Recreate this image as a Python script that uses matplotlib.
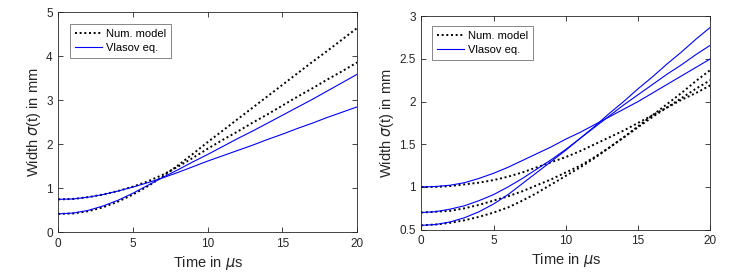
#! python3
# plot.py - beam width vs time, numerical model vs Vlasov equation

import matplotlib
matplotlib.use('Agg')
import matplotlib.pyplot as plt
import matplotlib.ticker as ticker

plt.rcParams['font.family'] = ['Liberation Sans', 'DejaVu Sans']
plt.rcParams['mathtext.fontset'] = 'dejavusans'

# time in microseconds
T = list(range(0, 21))

# left panel, width in mm
LEFT_NUM_NARROW = [0.42, 0.43, 0.48, 0.57, 0.70, 0.86, 1.05, 1.27, 1.52, 1.78, 2.05,
                   2.31, 2.57, 2.83, 3.09, 3.35, 3.61, 3.87, 4.12, 4.38, 4.64]
LEFT_NUM_WIDE = [0.75, 0.76, 0.80, 0.86, 0.94, 1.04, 1.16, 1.31, 1.49, 1.69, 1.90,
                 2.10, 2.29, 2.49, 2.68, 2.88, 3.08, 3.27, 3.47, 3.66, 3.86]
LEFT_VLASOV_NARROW = [0.42, 0.44, 0.50, 0.60, 0.73, 0.89, 1.07, 1.25, 1.42, 1.60, 1.77,
                      1.95, 2.13, 2.30, 2.48, 2.66, 2.84, 3.02, 3.21, 3.40, 3.59]
LEFT_VLASOV_WIDE = [0.75, 0.76, 0.80, 0.86, 0.94, 1.03, 1.13, 1.24, 1.36, 1.49, 1.62,
                    1.74, 1.86, 1.98, 2.11, 2.23, 2.36, 2.48, 2.61, 2.73, 2.85]

# right panel, width in mm
RIGHT_NUM = [
    [1.00, 1.00, 1.01, 1.03, 1.05, 1.08, 1.12, 1.17, 1.23, 1.29, 1.35,
     1.42, 1.50, 1.58, 1.66, 1.75, 1.84, 1.93, 2.02, 2.10, 2.19],
    [0.70, 0.71, 0.72, 0.75, 0.79, 0.84, 0.89, 0.95, 1.02, 1.09, 1.17,
     1.25, 1.35, 1.46, 1.58, 1.70, 1.82, 1.93, 2.04, 2.15, 2.25],
    [0.55, 0.56, 0.58, 0.61, 0.65, 0.70, 0.76, 0.84, 0.93, 1.03, 1.13,
     1.23, 1.34, 1.46, 1.58, 1.71, 1.84, 1.97, 2.10, 2.24, 2.37],
]
RIGHT_VLASOV = [
    [1.00, 1.005, 1.02, 1.05, 1.10, 1.16, 1.23, 1.31, 1.39, 1.47, 1.56,
     1.64, 1.73, 1.82, 1.91, 2.00, 2.10, 2.20, 2.30, 2.40, 2.50],
    [0.70, 0.71, 0.74, 0.78, 0.84, 0.91, 1.00, 1.10, 1.21, 1.32, 1.44,
     1.57, 1.70, 1.83, 1.96, 2.08, 2.20, 2.32, 2.43, 2.55, 2.66],
    [0.55, 0.56, 0.59, 0.64, 0.71, 0.80, 0.91, 1.04, 1.17, 1.30, 1.43,
     1.57, 1.71, 1.86, 2.00, 2.15, 2.29, 2.44, 2.58, 2.73, 2.87],
]

GRAY = (0.15, 0.15, 0.15)
DOTS = (0, (1, 1.4))


def style_axes(ax, ylim, yticks):
    ax.set_xlim(0, 20)
    ax.set_ylim(*ylim)
    ax.set_xticks([0, 5, 10, 15, 20])
    ax.set_yticks(yticks)
    ax.yaxis.set_major_formatter(ticker.FuncFormatter(lambda v, p: f'{v:g}'))
    ax.tick_params(direction='in', top=True, right=True, length=3.5, width=0.6,
                   labelsize=8.5, colors=GRAY, pad=4)
    for s in ax.spines.values():
        s.set_color(GRAY)
        s.set_linewidth(0.6)
    ax.set_xlabel(r'Time in $\mu$s', fontsize=10.5, color=GRAY, labelpad=3)
    ax.set_ylabel(r'Width $\sigma$(t) in mm', fontsize=10.5, color=GRAY, labelpad=2)


def add_legend(ax, anchor):
    leg = ax.legend(loc='upper left', bbox_to_anchor=anchor, borderaxespad=0,
                    fancybox=False, edgecolor=(0.45, 0.45, 0.45), framealpha=1,
                    fontsize=8, handlelength=2.4, handletextpad=0.4,
                    borderpad=0.45, labelspacing=0.35)
    leg.get_frame().set_linewidth(0.6)


def main():
    fig = plt.figure(figsize=(7.47, 2.78), dpi=100)

    # left panel
    ax = fig.add_axes([0.078, 0.164, 0.400, 0.792])
    ax.plot(T, LEFT_NUM_NARROW, color='k', ls=DOTS, lw=1.4, label='Num. model')
    ax.plot(T, LEFT_NUM_WIDE, color='k', ls=DOTS, lw=1.4)
    ax.plot(T, LEFT_VLASOV_NARROW, color='b', lw=0.8, label='Vlasov eq.')
    ax.plot(T, LEFT_VLASOV_WIDE, color='b', lw=0.8)
    style_axes(ax, (0, 5), [0, 1, 2, 3, 4, 5])
    add_legend(ax, (0.039, 0.947))

    # right panel
    ax2 = fig.add_axes([0.564, 0.174, 0.387, 0.768])
    for i, ys in enumerate(RIGHT_NUM):
        ax2.plot(T, ys, color='k', ls=DOTS, lw=1.4, label='Num. model' if i == 0 else None)
    for i, ys in enumerate(RIGHT_VLASOV):
        ax2.plot(T, ys, color='b', lw=0.8, label='Vlasov eq.' if i == 0 else None)
    style_axes(ax2, (0.5, 3), [0.5, 1, 1.5, 2, 2.5, 3])
    add_legend(ax2, (0.037, 0.953))

    fig.savefig('out.png', dpi=100)


if __name__ == '__main__':
    main()
